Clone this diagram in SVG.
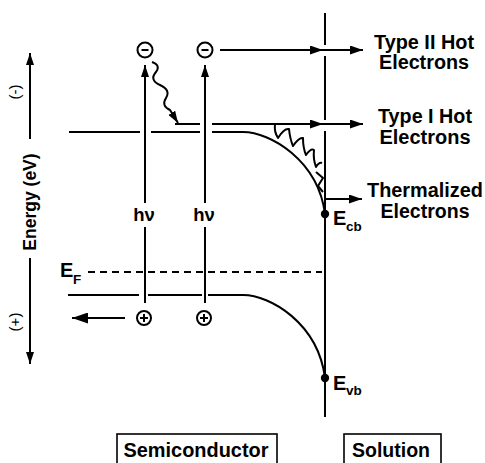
<svg xmlns="http://www.w3.org/2000/svg" width="485" height="463" viewBox="0 0 485 463">
<defs>
<style>
.ln{stroke:#000;stroke-width:2;fill:none}
.thin{stroke:#000;stroke-width:1.6;fill:none}
.t{font-family:"Liberation Sans",Arial,Helvetica,sans-serif;font-weight:bold;fill:#000}
.r{font-family:"Liberation Sans",Arial,Helvetica,sans-serif;fill:#000}
</style>
<marker id="ah" markerUnits="userSpaceOnUse" markerWidth="13" markerHeight="9" refX="13" refY="4.5" orient="auto">
<path d="M0,0 L13,4.5 L0,9 z" fill="#000"/>
</marker>
<marker id="ahp" markerUnits="userSpaceOnUse" markerWidth="12" markerHeight="8" refX="12" refY="4" orient="auto">
<path d="M0,0 L12,4 L0,8 z" fill="#000"/>
</marker>
<marker id="ahb" markerUnits="userSpaceOnUse" markerWidth="16" markerHeight="11" refX="16" refY="5.5" orient="auto">
<path d="M0,0 L16,5.5 L0,11 z" fill="#000"/>
</marker>
</defs>

<g id="axis">
<line class="ln" x1="30" y1="139" x2="30" y2="53" marker-end="url(#ahp)"/>
<line class="ln" x1="30" y1="258" x2="30" y2="364" marker-end="url(#ahp)"/>
<text class="t" font-size="17.5" text-anchor="middle" transform="translate(36,202) rotate(-90)">Energy (eV)</text>
<text class="r" font-size="15" text-anchor="middle" transform="translate(20,92) rotate(-90)">(-)</text>
<text class="r" font-size="15" text-anchor="middle" transform="translate(20,322) rotate(-90)">(+)</text>
</g>

<g id="interface">
<line class="ln" stroke-width="2.5" x1="325" y1="13" x2="325" y2="45"/>
<line class="ln" stroke-width="2.5" x1="325" y1="56" x2="325" y2="120"/>
<line class="ln" stroke-width="2.5" x1="325" y1="131" x2="325" y2="417"/>
</g>

<g id="conduction-band">
<path class="ln" d="M69,132 H140 M151,132 H200 M212,132 H243 C270,132 318,160 325,214"/>
<circle cx="325" cy="214" r="4.2" fill="#000"/>
<text class="t" font-size="20" x="333" y="225">E</text>
<text class="t" font-size="13.5" x="346" y="231">cb</text>
</g>

<g id="valence-band">
<path class="ln" d="M68,295 H139 M148,295 H202 M208,295 H243 C270,295 318,323 325,378"/>
<circle cx="325" cy="378" r="4.2" fill="#000"/>
<text class="t" font-size="20" x="333" y="390">E</text>
<text class="t" font-size="13.5" x="346" y="395">vb</text>
</g>

<g id="fermi-level">
<line class="ln" stroke-width="1.6" stroke-dasharray="7,5" x1="88" y1="272" x2="322" y2="272"/>
<text class="t" font-size="20" x="60" y="277">E</text>
<text class="t" font-size="13.5" x="73" y="284">F</text>
</g>

<g id="electron-1">
<circle class="ln" cx="145" cy="50" r="7.5"/>
<line class="ln" x1="141.5" y1="50" x2="148.5" y2="50"/>
</g>
<g id="electron-2">
<circle class="ln" cx="205" cy="50" r="7.5"/>
<line class="ln" x1="201.5" y1="50" x2="208.5" y2="50"/>
</g>
<g id="hole-1">
<circle class="ln" cx="144" cy="318" r="7"/>
<path class="ln" d="M140,318 H148 M144,314 V322"/>
</g>
<g id="hole-2">
<circle class="ln" cx="204" cy="318" r="7"/>
<path class="ln" d="M200,318 H208 M204,314 V322"/>
</g>

<g id="photon-1">
<line class="ln" x1="145" y1="303" x2="145" y2="227"/>
<line class="ln" x1="145" y1="203" x2="145" y2="65" marker-end="url(#ahp)"/>
<text class="t" font-size="18.5" text-anchor="middle" x="144" y="221">hν</text>
</g>
<g id="photon-2">
<line class="ln" x1="205" y1="303" x2="205" y2="227"/>
<line class="ln" x1="205" y1="203" x2="205" y2="65" marker-end="url(#ahp)"/>
<text class="t" font-size="18.5" text-anchor="middle" x="204" y="221">hν</text>
</g>

<g id="label-type2">
<text class="t" font-size="19.5" text-anchor="middle" x="424" y="49" textLength="100" lengthAdjust="spacingAndGlyphs">Type II Hot</text>
<text class="t" font-size="19.5" text-anchor="middle" x="424" y="69" textLength="90" lengthAdjust="spacingAndGlyphs">Electrons</text>
</g>
<g id="label-type1">
<text class="t" font-size="19.5" text-anchor="middle" x="425" y="123" textLength="94" lengthAdjust="spacingAndGlyphs">Type I Hot</text>
<text class="t" font-size="19.5" text-anchor="middle" x="425" y="144" textLength="91" lengthAdjust="spacingAndGlyphs">Electrons</text>
</g>
<g id="label-thermal">
<text class="t" font-size="19.5" text-anchor="middle" x="425" y="197" textLength="116" lengthAdjust="spacingAndGlyphs">Thermalized</text>
<text class="t" font-size="19.5" text-anchor="middle" x="425" y="218" textLength="89" lengthAdjust="spacingAndGlyphs">Electrons</text>
</g>

<g id="box-semiconductor">
<rect class="thin" x="117" y="434" width="160" height="40"/>
<text class="t" font-size="19.5" text-anchor="middle" x="196" y="457" textLength="145" lengthAdjust="spacingAndGlyphs">Semiconductor</text>
</g>
<g id="box-solution">
<rect class="thin" x="344" y="434" width="97" height="40"/>
<text class="t" font-size="19.5" text-anchor="middle" x="391" y="457" textLength="78" lengthAdjust="spacingAndGlyphs">Solution</text>
</g>

<g id="connectors">
<path class="ln" d="M220,50 H323" marker-end="url(#ah)"/>
<path class="ln" d="M323,50 H363" marker-end="url(#ah)"/>
<path class="ln" d="M175,124 H200 M212,124 H323" marker-end="url(#ah)"/>
<path class="ln" d="M323,124 H363" marker-end="url(#ah)"/>
<path class="ln" d="M325,199 H362" marker-end="url(#ah)"/>
<path class="ln" d="M125,318 H72" marker-end="url(#ahb)"/>
<path class="ln" stroke-linejoin="round" d="M152,62 Q161,65 156,72 Q149,80 160,85 Q171,90 166,98 Q161,106 170,110 L178,123" marker-end="url(#ahp)"/>
<path class="ln" stroke-width="1.8" stroke-linejoin="round" d="M275,124 Q274,132 278,138 Q284,128 289,129 Q290,139 293,146 Q299,137 303,138 Q303,148 306,155 Q311,148 314,150 Q313,159 316,167 Q319,162 322,163"/>
<path class="ln" stroke-width="1.5" d="M316,172 L323,178 L318,186 L323,192"/>
</g>
</svg>
